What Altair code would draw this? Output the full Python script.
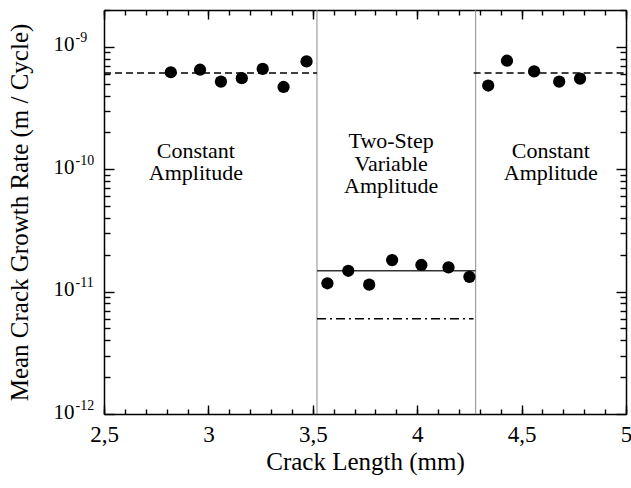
import altair as alt
import pandas as pd

# ---------------- data ----------------
left_x = [2.82, 2.96, 3.06, 3.16, 3.26, 3.36, 3.47]
left_y = [6.2e-10, 6.5e-10, 5.2e-10, 5.55e-10, 6.6e-10, 4.7e-10, 7.6e-10]
mid_x = [3.57, 3.67, 3.77, 3.88, 4.02, 4.15, 4.25]
mid_y = [1.17e-11, 1.48e-11, 1.14e-11, 1.81e-11, 1.65e-11, 1.58e-11, 1.32e-11]
right_x = [4.34, 4.43, 4.56, 4.68, 4.78]
right_y = [4.83e-10, 7.7e-10, 6.3e-10, 5.2e-10, 5.5e-10]

seg_x1 = [2.5, 4.27, 3.52, 3.52]
seg_x2 = [3.52, 5.0, 4.28, 4.27]
seg_y = [6.1e-10, 6.1e-10, 1.48e-11, 6.0e-12]
seg_style = ["dashed", "dashed", "solid", "dashdot"]

vline_x = [3.52, 4.28]

ann_x = [2.94, 3.875, 4.64]
ann_y = [1.41e-10, 1.70e-10, 1.41e-10]
ann_text = ["Constant\nAmplitude", "Two-Step\nVariable\nAmplitude", "Constant\nAmplitude"]

x_tick_values = [2.5, 3.0, 3.5, 4.0, 4.5, 5.0]
x_tick_labels = ["2,5", "3", "3,5", "4", "4,5", "5"]
x_minor_values = [round(2.5 + 0.1 * i, 2) for i in range(26)]

y_tick_values = [1e-12, 1e-11, 1e-10, 1e-9]
y_tick_base = ["10", "10", "10", "10"]
y_tick_exp = ["-12", "-11", "-10", "-9"]
y_minor_values = [k * 10.0 ** e for e in (-12, -11, -10, -9) for k in range(2, 10) if k * 10.0 ** e <= 2.0001e-9]

# ---------------- tables ----------------
pts = pd.DataFrame({"x": left_x + mid_x + right_x, "y": left_y + mid_y + right_y})
segs = pd.DataFrame({"x1": seg_x1, "x2": seg_x2, "y": seg_y, "style": seg_style})
vl = pd.DataFrame({"x": vline_x})
ann = pd.DataFrame({"x": ann_x, "y": ann_y, "text": ann_text})

W, H = 522, 404
FONT = "Liberation Serif"

xs = alt.Scale(domain=[2.5, 5.0], nice=False, zero=False)
ys = alt.Scale(type="log", domain=[1e-12, 2e-9], nice=False)


def label_expr(values, labels):
    expr = "''"
    for v, l in zip(reversed(values), reversed(labels)):
        expr = f"(abs(datum.value - {v!r}) < {abs(v) * 1e-6 + 1e-30!r} ? '{l}' : {expr})"
    return expr


x_label_axis = alt.Axis(orient="bottom", values=x_tick_values,
                        labelExpr=label_expr(x_tick_values, x_tick_labels),
                        ticks=False, tickSize=0, domain=False, grid=False, labelFlush=False,
                        labelFont=FONT, labelFontSize=23, labelColor="black", labelPadding=9,
                        title="Crack Length (mm)", titleFont=FONT, titleFontSize=25,
                        titleFontWeight="normal", titleColor="black", titlePadding=3)
y_base_axis = alt.Axis(orient="left", values=y_tick_values,
                       labelExpr=label_expr(y_tick_values, y_tick_base),
                       ticks=False, tickSize=0, domain=False, grid=False, labelFlush=False,
                       labelFont=FONT, labelFontSize=21, labelColor="black", labelPadding=30,
                       labelAlign="right", labelBaseline="middle", labelOffset=-2,
                       title="Mean Crack Growth Rate (m / Cycle)", titleFont=FONT, titleFontSize=25,
                       titleFontWeight="normal", titleColor="black", titlePadding=21)
y_exp_axis = alt.Axis(orient="left", values=y_tick_values,
                      labelExpr=label_expr(y_tick_values, y_tick_exp),
                      ticks=False, tickSize=0, domain=False, grid=False, labelFlush=False,
                      labelFont=FONT, labelFontSize=14, labelColor="black", labelPadding=29,
                      labelAlign="left", labelBaseline="middle", labelOffset=-9, title=None)


def tick_axis(orient, values, size, offset, domain=False):
    return alt.Axis(orient=orient, values=values, offset=offset, tickSize=size, tickWidth=1.4,
                    tickColor="black", labels=False, domain=domain, domainColor="black",
                    domainWidth=1.5, grid=False, title=None)


def axis_layer(xaxis, yaxis):
    return alt.Chart(pts).mark_point(opacity=0).encode(
        x=alt.X("x:Q", scale=xs, axis=xaxis),
        y=alt.Y("y:Q", scale=ys, axis=yaxis),
    )


layers = [
    axis_layer(x_label_axis, y_base_axis),
    axis_layer(None, y_exp_axis),
    axis_layer(tick_axis("top", x_tick_values, 9, -H, True), tick_axis("right", y_tick_values, 10, -W, True)),
    axis_layer(tick_axis("top", x_minor_values, 5, -H), tick_axis("right", y_minor_values, 6, -W)),
    axis_layer(tick_axis("bottom", x_tick_values, 9, -H, True), tick_axis("left", y_tick_values, 10, -W, True)),
    axis_layer(tick_axis("bottom", x_minor_values, 5, -H), tick_axis("left", y_minor_values, 6, -W)),
]

vlines = alt.Chart(vl).mark_rule(color="#8c8c8c", strokeWidth=1).encode(
    x=alt.X("x:Q", scale=xs, axis=None)
)

styles = {"dashed": [7, 4], "solid": [1, 0], "dashdot": [9, 4, 2, 4]}
seg_layers = []
for name, dash in styles.items():
    seg_layers.append(
        alt.Chart(segs).transform_filter(alt.datum.style == name)
        .mark_rule(color="black" if name != "solid" else "#333333", strokeWidth=1.5, strokeDash=dash)
        .encode(x=alt.X("x1:Q", scale=xs, axis=None), x2="x2:Q",
                y=alt.Y("y:Q", scale=ys, axis=None))
    )

points = alt.Chart(pts).mark_circle(size=150, color="black", opacity=1).encode(
    x=alt.X("x:Q", scale=xs, axis=None),
    y=alt.Y("y:Q", scale=ys, axis=None),
)

texts = alt.Chart(ann).mark_text(font=FONT, fontSize=22, lineHeight=22.5, lineBreak="\n",
                                 align="center", baseline="middle", color="black").encode(
    x=alt.X("x:Q", scale=xs, axis=None),
    y=alt.Y("y:Q", scale=ys, axis=None),
    text="text:N",
)

chart = alt.layer(*layers, vlines, *seg_layers, points, texts).resolve_axis(
    x="independent", y="independent"
).properties(
    width=W, height=H,
    autosize=alt.AutoSizeParams(type="none"),
    padding={"left": 104, "top": 10, "right": 5, "bottom": 74},
).configure_view(stroke="black", strokeWidth=1.5).configure(background="white")

chart.save("out.html", embed_options={"renderer": "svg", "actions": False})
